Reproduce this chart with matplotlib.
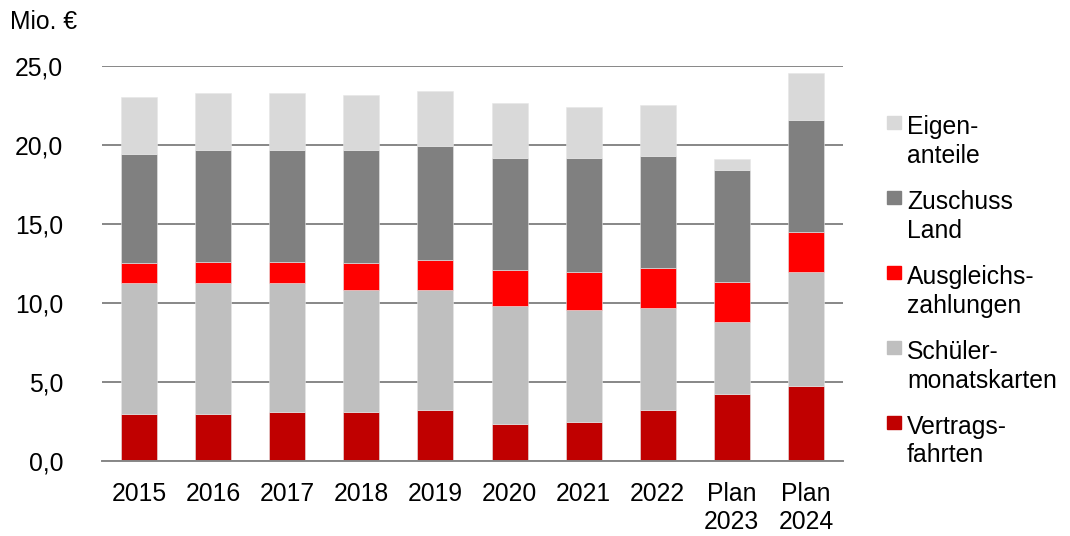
import matplotlib

matplotlib.use("Agg")
import matplotlib.pyplot as plt
from matplotlib.patches import Rectangle
from matplotlib.ticker import FuncFormatter

plt.rcParams["font.family"] = ["Liberation Sans", "DejaVu Sans"]
plt.rcParams["font.size"] = 17.8

# Finanzierung je Jahr in Mio. EUR
jahre = ["2015", "2016", "2017", "2018", "2019", "2020", "2021", "2022",
         "Plan\n2023", "Plan\n2024"]
vertragsfahrten = [2.97, 2.97, 3.12, 3.12, 3.23, 2.32, 2.47, 3.23, 4.24, 4.75]
schuelermonatskarten = [8.27, 8.27, 8.12, 7.72, 7.61, 7.51, 7.11, 6.47, 4.58, 7.23]
ausgleichszahlungen = [1.27, 1.38, 1.38, 1.67, 1.90, 2.28, 2.40, 2.54, 2.53, 2.53]
zuschuss_land = [6.94, 7.08, 7.08, 7.19, 7.22, 7.09, 7.22, 7.08, 7.09, 7.09]
eigenanteile = [3.59, 3.59, 3.59, 3.46, 3.46, 3.46, 3.21, 3.21, 0.67, 2.96]

reihen = [
    ("Vertrags-\nfahrten", vertragsfahrten, "#C00000"),
    ("Schüler-\nmonatskarten", schuelermonatskarten, "#BFBFBF"),
    ("Ausgleichs-\nzahlungen", ausgleichszahlungen, "#FF0000"),
    ("Zuschuss\nLand", zuschuss_land, "#808080"),
    ("Eigen-\nanteile", eigenanteile, "#D9D9D9"),
]

fig = plt.figure(figsize=(10.70, 5.36), dpi=100)
ax = fig.add_axes([102 / 1070, 75 / 536, 741 / 1070, 395 / 536])

x = range(len(jahre))
basis = [0.0] * len(jahre)
for name, werte, farbe in reihen:
    ax.bar(x, werte, width=0.485, bottom=basis, color=farbe,
           edgecolor="#E6E6E6", linewidth=0.4)
    basis = [b + w for b, w in zip(basis, werte)]

ax.set_xlim(-0.5, len(jahre) - 0.5)
ax.set_ylim(0, 25)
ax.set_yticks([0, 5, 10, 15, 20, 25])
ax.yaxis.set_major_formatter(FuncFormatter(lambda v, _: f"{v:.1f}".replace(".", ",")))
ax.set_xticks(list(x))
ax.set_xticklabels(jahre, va="top", linespacing=1.2)

ax.set_axisbelow(True)
ax.grid(axis="y", color="#878787", linewidth=1.4)
for seite in ["left", "right", "top"]:
    ax.spines[seite].set_visible(False)
ax.spines["bottom"].set_color("#878787")
ax.spines["bottom"].set_linewidth(1.4)
ax.tick_params(axis="y", length=0, pad=28)
ax.tick_params(axis="x", length=0, pad=15)

fig.text(10 / 1070, 1 - 22 / 536, "Mio. €", ha="left", va="center")

# Legende von oben nach unten, Quadrat an der ersten Textzeile
zeilenabstand = 30.5
for i, (name, werte, farbe) in enumerate(reversed(reihen)):
    grundlinie = 132 + 75 * i
    # bei mehrzeiligem Text bezieht sich "baseline" auf die letzte Zeile
    letzte = grundlinie + zeilenabstand * name.count("\n")
    fig.text(907 / 1070, 1 - letzte / 536, name, ha="left",
             va="baseline", linespacing=1.24)
    fig.patches.append(Rectangle((887 / 1070, 1 - (grundlinie - 3) / 536),
                                 13.5 / 1070, 13.5 / 536,
                                 transform=fig.transFigure, color=farbe))

fig.savefig("out.png", dpi=100)
plt.close(fig)
